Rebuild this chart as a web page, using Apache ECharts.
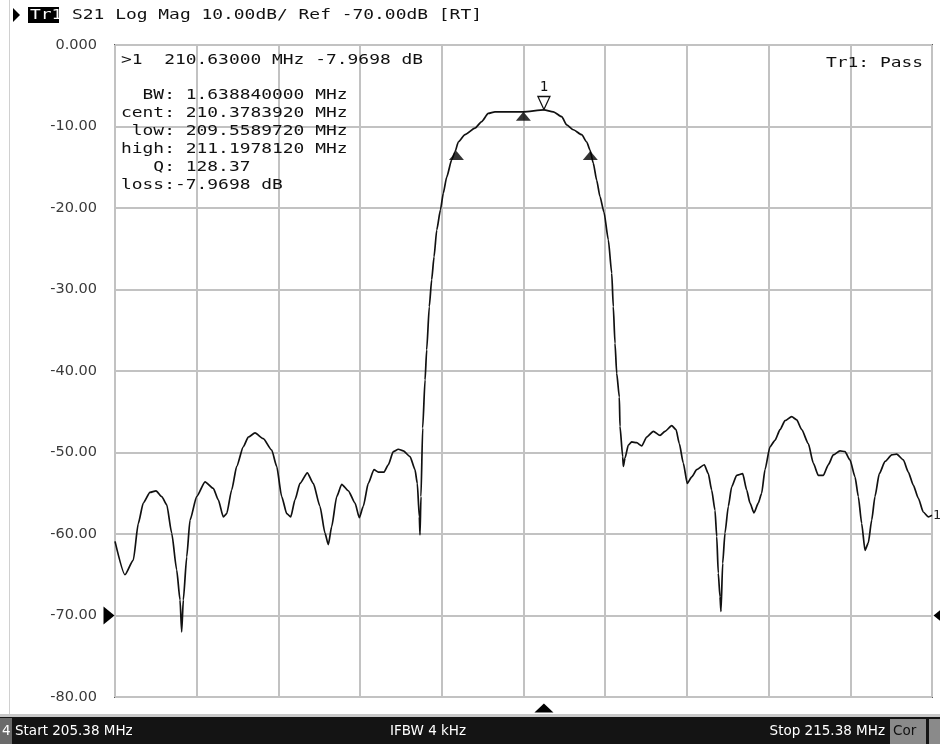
<!DOCTYPE html>
<html><head><meta charset="utf-8">
<script src="https://cdn.jsdelivr.net/npm/echarts@6/dist/echarts.min.js"></script>
<style>html,body{margin:0;padding:0;background:#fff}#c{width:940px;height:744px}</style>
</head><body><div id="c"></div><script>
// ---- data ----
const startMHz = 205.38;
const stopMHz = 215.38;
const refDb = -70;
const freqMHz = [205.380,205.502,205.604,205.665,205.726,205.808,205.882,205.952,206.013,206.074,206.135,206.176,206.196,206.216,206.258,206.298,206.380,206.482,206.583,206.644,206.706,206.747,206.808,206.870,206.950,207.012,207.094,207.195,207.298,207.359,207.420,207.482,207.531,207.583,207.644,207.734,207.807,207.889,207.950,207.991,208.032,208.094,208.155,208.236,208.318,208.370,208.419,208.480,208.550,208.603,208.673,208.725,208.786,208.848,208.909,208.991,209.052,209.080,209.105,209.113,209.125,209.146,209.175,209.195,209.227,209.256,209.285,209.318,209.364,209.398,209.440,209.501,209.542,209.582,209.664,209.786,209.868,209.949,210.031,210.378,210.630,210.745,210.848,210.909,210.990,211.092,211.154,211.194,211.234,211.276,211.316,211.365,211.418,211.460,211.479,211.500,211.521,211.553,211.561,211.594,211.602,211.622,211.663,211.704,211.765,211.827,211.888,211.969,212.051,212.112,212.194,212.247,212.287,212.336,212.385,212.439,212.500,212.593,212.642,212.683,212.724,212.745,212.764,212.785,212.797,212.818,212.846,212.887,212.928,212.989,213.063,213.112,213.152,213.201,213.254,213.295,213.336,213.397,213.458,213.520,213.581,213.663,213.724,213.785,213.866,213.927,213.988,214.050,214.111,214.172,214.254,214.315,214.376,214.438,214.478,214.519,214.560,214.600,214.642,214.682,214.735,214.805,214.887,214.948,215.029,215.090,215.151,215.212,215.273,215.335,215.380];
const s21dB = [-60.9,-65.0,-63.2,-58.7,-56.2,-54.9,-54.7,-55.4,-56.4,-59.9,-64.4,-68.1,-72.0,-68.1,-62.8,-58.3,-55.4,-53.6,-54.4,-55.8,-57.9,-57.5,-54.6,-51.7,-49.3,-48.1,-47.6,-48.3,-49.7,-51.7,-55.4,-57.5,-57.9,-55.8,-53.8,-52.5,-53.8,-56.6,-59.9,-61.3,-59.1,-55.4,-53.9,-54.7,-56.2,-58.0,-56.6,-53.8,-52.1,-52.4,-52.4,-51.5,-49.9,-49.6,-49.8,-50.5,-52.1,-53.8,-57.9,-60.1,-55.4,-47.0,-41.1,-37.4,-32.1,-28.8,-26.0,-22.7,-20.2,-18.2,-16.2,-14.1,-13.1,-11.9,-11.0,-10.2,-9.4,-8.4,-8.2,-8.2,-7.97,-8.2,-8.8,-9.8,-10.4,-11.0,-11.9,-12.9,-14.5,-16.6,-18.6,-20.5,-23.9,-28.0,-32.1,-36.6,-40.3,-43.2,-46.8,-50.5,-51.7,-50.7,-49.1,-48.7,-48.8,-49.2,-48.1,-47.4,-47.9,-47.4,-46.7,-47.2,-48.9,-51.3,-53.8,-53.0,-52.1,-51.5,-52.6,-54.6,-57.1,-60.3,-64.8,-67.7,-69.5,-63.6,-59.9,-56.6,-54.2,-52.8,-52.6,-54.6,-56.2,-57.4,-56.2,-55.0,-52.1,-49.3,-48.5,-47.2,-46.1,-45.6,-46.0,-47.2,-48.9,-51.3,-52.8,-52.8,-51.5,-50.3,-49.8,-49.9,-50.9,-53.0,-55.4,-58.7,-62.0,-61.1,-58.3,-55.4,-52.6,-51.1,-50.3,-50.2,-50.9,-52.4,-54.0,-55.6,-57.3,-57.9,-57.7];
const bwMarkerFreq = [209.5589720, 210.3783920, 211.1978120];
const bwMarkerDb = [-13.0, -8.2, -13.0];
const marker1Freq = 210.63;
const marker1Db = -7.9698;
const headerText = 'S21 Log Mag 10.00dB/ Ref -70.00dB [RT]';
const infoLines = ['>1  210.63000 MHz -7.9698 dB', '', '  BW: 1.638840000 MHz', 'cent: 210.3783920 MHz', ' low: 209.5589720 MHz', 'high: 211.1978120 MHz', '   Q: 128.37', 'loss:-7.9698 dB'];
const passText = 'Tr1: Pass';
const statusTexts = ['Start 205.38 MHz', 'IFBW 4 kHz', 'Stop 215.38 MHz'];

// ---- chart ----
const chart = echarts.init(document.getElementById('c'), null, {renderer: 'canvas'});
const MONO = '14px "DejaVu Sans Mono"';
const SX = 1.28;
const SANS = '13.5px "DejaVu Sans"';
function monoText(x, y, text, fill, extra) {
  return Object.assign({type: 'text', x: x, y: y, scaleX: SX, z: 100,
    style: {text: text, font: MONO, fill: fill || '#111', textAlign: 'left', textVerticalAlign: 'middle'}}, extra || {});
}
const graphics = [];
graphics.push({type: 'line', shape: {x1: 9.5, y1: 0, x2: 9.5, y2: 716}, style: {stroke: '#d0d0d0', lineWidth: 1}});
graphics.push({type: 'polygon', shape: {points: [[13, 8], [13, 22], [20, 15]]}, style: {fill: '#000'}});
graphics.push({type: 'rect', shape: {x: 28, y: 7, width: 31, height: 16}, style: {fill: '#000'}});
graphics.push(monoText(30, 15, 'Tr1', '#fff'));
graphics.push(monoText(72, 15, headerText, '#111'));
infoLines.forEach((t, i) => {
  if (!t) return;
  const y = i === 0 ? 60 : 95 + (i - 2) * 18;
  graphics.push(monoText(121, y, t, '#111'));
});
graphics.push(monoText(826, 63, passText, '#111'));
// status bar
graphics.push({type: 'rect', shape: {x: 0, y: 714, width: 940, height: 3}, style: {fill: '#c8c8c8'}});
graphics.push({type: 'rect', shape: {x: 0, y: 717, width: 940, height: 27}, style: {fill: '#141414'}});
graphics.push({type: 'rect', shape: {x: 0, y: 718, width: 12, height: 26}, style: {fill: '#6a6a6a'}});
graphics.push({type: 'text', x: 2, y: 731, style: {text: '4', font: SANS, fill: '#fff', textVerticalAlign: 'middle'}});
graphics.push({type: 'text', x: 15, y: 731, style: {text: statusTexts[0], font: SANS, fill: '#fff', textVerticalAlign: 'middle'}});
graphics.push({type: 'text', x: 390, y: 731, style: {text: statusTexts[1], font: SANS, fill: '#fff', textVerticalAlign: 'middle'}});
graphics.push({type: 'text', x: 885, y: 731, style: {text: statusTexts[2], font: SANS, fill: '#fff', textAlign: 'right', textVerticalAlign: 'middle'}});
graphics.push({type: 'rect', shape: {x: 890, y: 719, width: 36, height: 25}, style: {fill: '#8a8a8a'}});
graphics.push({type: 'text', x: 893, y: 731, style: {text: 'Cor', font: SANS, fill: '#111', textVerticalAlign: 'middle'}});
graphics.push({type: 'rect', shape: {x: 929, y: 719, width: 11, height: 25}, style: {fill: '#8a8a8a'}});

const option = {
  backgroundColor: '#fff',
  animation: false,
  grid: {left: 115, right: 8, top: 45, bottom: 47, show: true, borderColor: '#5a5a5a', borderWidth: 2, backgroundColor: '#fff'},
  xAxis: {
    type: 'value', min: startMHz, max: stopMHz, interval: 1,
    axisLine: {show: false}, axisTick: {show: false}, axisLabel: {show: false},
    splitLine: {show: true, lineStyle: {color: '#c2c2c2', width: 2}}
  },
  yAxis: {
    type: 'value', min: -80, max: 0, interval: 10,
    axisLine: {show: false}, axisTick: {show: false},
    axisLabel: {margin: 18, fontFamily: 'DejaVu Sans', fontSize: 14.5, color: '#3a3a3a',
      formatter: v => v === 0 ? '0.000' : v.toFixed(2)},
    splitLine: {show: true, lineStyle: {color: '#c2c2c2', width: 2}}
  },
  series: [
    {
      type: 'line', data: freqMHz.map((f, i) => [f, s21dB[i]]),
      showSymbol: false, smooth: 0.2, smoothMonotone: 'x',
      lineStyle: {color: '#111', width: 1.7}, z: 5,
      endLabel: {show: true, formatter: '1', color: '#222', fontFamily: 'DejaVu Sans Mono', fontSize: 13, distance: 1},
      markPoint: {
        silent: true, animation: false,
        label: {show: false},
        data: [
          {coord: [startMHz, refDb], symbol: 'triangle', symbolRotate: -90, symbolSize: [18, 11], symbolOffset: [-6, 0], itemStyle: {color: '#000'}},
          {coord: [stopMHz, refDb], symbol: 'triangle', symbolRotate: 90, symbolSize: [18, 11], symbolOffset: [7, 0], itemStyle: {color: '#000'}},
          {coord: [marker1Freq, -80], symbol: 'triangle', symbolSize: [19, 9], symbolOffset: [0, 11], itemStyle: {color: '#000'}},
          {coord: [marker1Freq, marker1Db], symbol: 'triangle', symbolRotate: 180, symbolSize: [12, 13], symbolOffset: [0, -7],
            itemStyle: {color: '#fff', borderColor: '#111', borderWidth: 1.3},
            label: {show: true, formatter: '1', position: 'top', distance: 1, color: '#111', fontFamily: 'DejaVu Sans Mono', fontSize: 14}}
        ]
      }
    },
    {
      type: 'scatter', data: bwMarkerFreq.map((f, i) => [f, bwMarkerDb[i]]),
      symbol: 'triangle', symbolSize: [15, 9], symbolOffset: [0, '50%'],
      itemStyle: {color: '#000'}, z: 6, silent: true
    }
  ],
  graphic: graphics
};
chart.setOption(option);
</script></body></html>
